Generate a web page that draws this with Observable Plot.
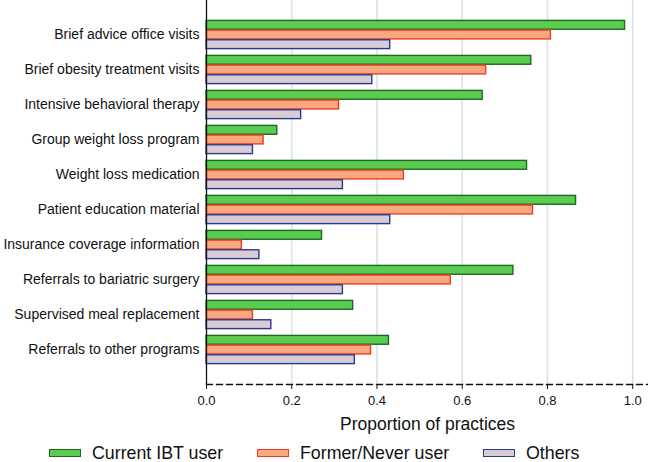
<!DOCTYPE html>
<html>
<head>
<meta charset="utf-8">
<script src="https://cdn.jsdelivr.net/npm/d3@7"></script>
<script src="https://cdn.jsdelivr.net/npm/@observablehq/plot@0.6"></script>
<style>
  html, body { margin: 0; padding: 0; background: #fff; }
  body { width: 648px; height: 462px; overflow: hidden; position: relative; font-family: "Liberation Sans", Arial, sans-serif; }
  #legend { position: absolute; left: 0; top: 445px; width: 648px; height: 16px; font-size: 17.8px; line-height: 16px; color: #111; }
  .item { display: flex; align-items: center; position: absolute; top: 0; height: 16px; }
  .item span { line-height: 16px; display: block; }
  .sw { width: 30px; height: 5.5px; border-width: 1.4px; border-style: solid; margin-right: 11px; }
</style>
</head>
<body>
<div id="chart"></div>
<div id="legend"></div>
<script>
const categories = [
  "Brief advice office visits",
  "Brief obesity treatment visits",
  "Intensive behavioral therapy",
  "Group weight loss program",
  "Weight loss medication",
  "Patient education material",
  "Insurance coverage information",
  "Referrals to bariatric surgery",
  "Supervised meal replacement",
  "Referrals to other programs"
];
const seriesNames = ["Current IBT user", "Former/Never user", "Others"];
const currentIBT = [0.982, 0.762, 0.648, 0.166, 0.752, 0.867, 0.271, 0.720, 0.344, 0.428];
const formerNever = [0.808, 0.656, 0.311, 0.134, 0.463, 0.766, 0.083, 0.573, 0.109, 0.386];
const others = [0.431, 0.389, 0.222, 0.109, 0.320, 0.431, 0.124, 0.320, 0.152, 0.348];
const xTicks = [0, 0.2, 0.4, 0.6, 0.8, 1.0];
const xLabel = "Proportion of practices";

const fills = ["#5bcc52", "#f9a982", "#d8ccd6"];
const strokes = ["#1d6a1d", "#f03c1e", "#2a3a90"];

const seriesValues = [currentIBT, formerNever, others];
const rows = seriesValues.map(vals => categories.map((c, i) => ({category: c, value: vals[i]})));

const band = 35 * 0.83;
const h = band / 3;
const insets = [[0, 2 * h], [h, h], [2 * h, 0]];

const barMarks = rows.map((data, s) => Plot.barX(data, {
  x: "value",
  y: "category",
  fill: fills[s],
  stroke: strokes[s],
  strokeWidth: 1.4,
  insetTop: insets[s][0] + 0.4,
  insetBottom: insets[s][1] + 0.4
}));

const chart = Plot.plot({
  width: 648,
  height: 440,
  marginTop: 0,
  marginBottom: 56,
  marginLeft: 206,
  marginRight: 0,
  style: {fontFamily: "Liberation Sans, Arial, sans-serif", background: "#fff"},
  x: {domain: [0, 1.037]},
  y: {domain: categories, paddingInner: 0.17, paddingOuter: 0.57},
  marks: [
    Plot.ruleX(xTicks.filter(d => d > 0), {stroke: "#d9e4e3", strokeWidth: 1.6}),
    ...barMarks,
    Plot.frame({anchor: "bottom", stroke: "#111", strokeWidth: 1.3, strokeDasharray: "6,4"}),
    Plot.ruleX([0], {stroke: "#111", strokeWidth: 1.3}),
    Plot.axisY({tickSize: 0, tickPadding: 7, fontSize: 14, label: null, color: "#111"}),
    Plot.axisX({ticks: xTicks, tickFormat: d3.format(".1f"), tickSize: 5, tickPadding: 6, fontSize: 13, label: null, color: "#111"}),
    Plot.text([xLabel], {frameAnchor: "bottom", lineAnchor: "middle", dy: 39.5, fontSize: 17.5, fill: "#111"})
  ]
});
document.getElementById("chart").appendChild(chart);

const legend = document.getElementById("legend");
const lefts = [49, 257, 483];
seriesNames.forEach((name, s) => {
  const item = document.createElement("div");
  item.className = "item";
  item.style.left = lefts[s] + "px";
  const sw = document.createElement("div");
  sw.className = "sw";
  sw.style.background = fills[s];
  sw.style.borderColor = strokes[s];
  const t = document.createElement("span");
  t.textContent = name;
  item.appendChild(sw);
  item.appendChild(t);
  legend.appendChild(item);
});
</script>
</body>
</html>
